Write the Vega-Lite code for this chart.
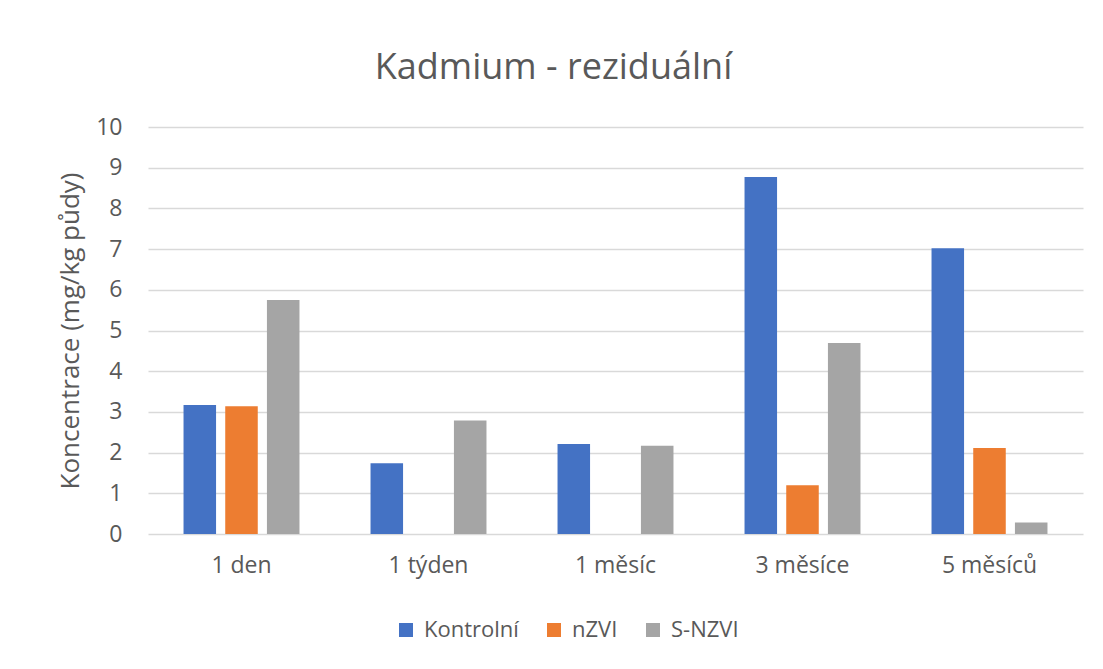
{
  "$schema": "https://vega.github.io/schema/vega-lite/v6.json",
  "autosize": {"type": "none"},
  "width": 935,
  "height": 407,
  "padding": {"left": 148, "top": 127, "right": 20, "bottom": 135},
  "background": "white",
  "title": {
    "text": "Kadmium - reziduální",
    "font": "Open Sans",
    "fontSize": 36,
    "fontWeight": "normal",
    "color": "#595959",
    "anchor": "middle",
    "dx": -62,
    "offset": 29
  },
  "data": {
    "values": [
      {"cas": "1 den", "serie": "Kontrolní", "hodnota": 3.17},
      {"cas": "1 den", "serie": "nZVI", "hodnota": 3.14},
      {"cas": "1 den", "serie": "S-NZVI", "hodnota": 5.75},
      {"cas": "1 týden", "serie": "Kontrolní", "hodnota": 1.74},
      {"cas": "1 týden", "serie": "S-NZVI", "hodnota": 2.79},
      {"cas": "1 měsíc", "serie": "Kontrolní", "hodnota": 2.21},
      {"cas": "1 měsíc", "serie": "S-NZVI", "hodnota": 2.17},
      {"cas": "3 měsíce", "serie": "Kontrolní", "hodnota": 8.77},
      {"cas": "3 měsíce", "serie": "nZVI", "hodnota": 1.2},
      {"cas": "3 měsíce", "serie": "S-NZVI", "hodnota": 4.69},
      {"cas": "5 měsíců", "serie": "Kontrolní", "hodnota": 7.02},
      {"cas": "5 měsíců", "serie": "nZVI", "hodnota": 2.11},
      {"cas": "5 měsíců", "serie": "S-NZVI", "hodnota": 0.28}
    ]
  },
  "mark": {"type": "bar"},
  "encoding": {
    "x": {
      "field": "cas",
      "type": "nominal",
      "sort": ["1 den", "1 týden", "1 měsíc", "3 měsíce", "5 měsíců"],
      "scale": {"paddingInner": 0.38, "paddingOuter": 0.19},
      "axis": {
        "title": null,
        "labelAngle": 0,
        "labelFont": "Open Sans",
        "labelFontSize": 23,
        "labelColor": "#595959",
        "labelPadding": 20,
        "ticks": false,
        "domain": false
      }
    },
    "xOffset": {
      "field": "serie",
      "type": "nominal",
      "sort": ["Kontrolní", "nZVI", "S-NZVI"],
      "scale": {"paddingInner": 0.22, "paddingOuter": 0}
    },
    "y": {
      "field": "hodnota",
      "type": "quantitative",
      "scale": {"domain": [0, 10], "nice": false},
      "axis": {
        "title": "Koncentrace (mg/kg půdy)",
        "titleFont": "Open Sans",
        "titleFontSize": 26,
        "titleFontWeight": "normal",
        "titleColor": "#595959",
        "titlePadding": 12,
        "labelFont": "Open Sans",
        "labelFontSize": 23,
        "labelColor": "#595959",
        "labelPadding": 26,
        "labelOverlap": false,
        "values": [0, 1, 2, 3, 4, 5, 6, 7, 8, 9, 10],
        "ticks": false,
        "domain": false,
        "grid": true,
        "gridColor": "#d9d9d9",
        "gridWidth": 1.5
      }
    },
    "color": {
      "field": "serie",
      "type": "nominal",
      "sort": ["Kontrolní", "nZVI", "S-NZVI"],
      "scale": {"domain": ["Kontrolní", "nZVI", "S-NZVI"], "range": ["#4472C4", "#ED7D31", "#A5A5A5"]},
      "legend": {
        "title": null,
        "orient": "none",
        "legendX": 247,
        "legendY": 492,
        "direction": "horizontal",
        "symbolType": "square",
        "symbolSize": 196,
        "symbolStrokeWidth": 0,
        "labelFont": "Open Sans",
        "labelFontSize": 22,
        "labelColor": "#595959",
        "columnPadding": 24,
        "labelOffset": 7
      }
    }
  },
  "config": {
    "view": {"stroke": null}
  }
}
